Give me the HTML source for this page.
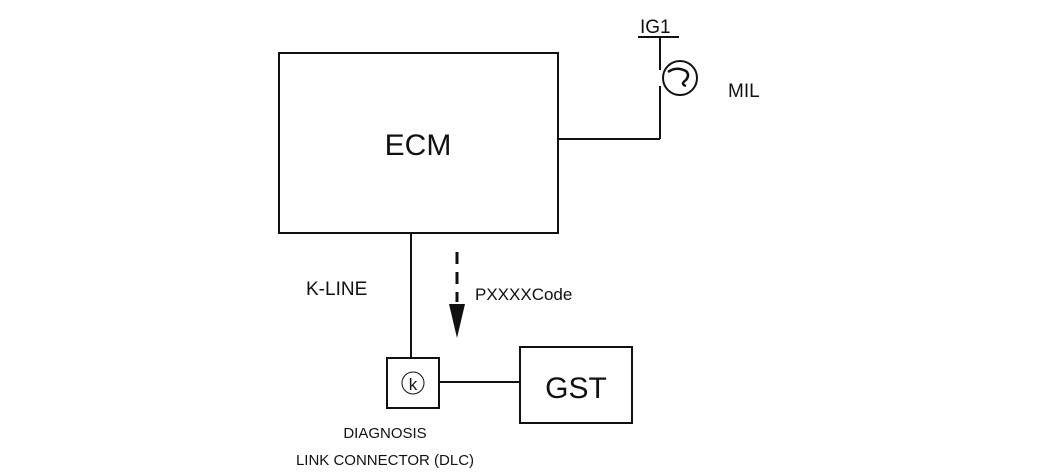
<!DOCTYPE html>
<html><head><style>body{margin:0;background:#fff}svg{display:block}text{font-family:"Liberation Sans",sans-serif;fill:#111}</style></head>
<body>
<svg width="1050" height="475" viewBox="0 0 1050 475" xmlns="http://www.w3.org/2000/svg">
<g stroke="#111" stroke-width="2" fill="none">
<rect x="279" y="53" width="279" height="180"/>
<line x1="411" y1="233" x2="411" y2="358"/>
<rect x="387" y="358" width="52" height="50"/>
<line x1="440" y1="382" x2="520" y2="382"/>
<rect x="520" y="347" width="112" height="76"/>
<line x1="638" y1="37" x2="679" y2="37"/>
<line x1="660" y1="37" x2="660" y2="70"/>
<line x1="660" y1="86" x2="660" y2="139"/>
<line x1="558" y1="139" x2="660" y2="139"/>
<circle cx="680" cy="78" r="17"/>
<path d="M668 72 Q676 66 686 71 Q690 75 686 80 Q680 84 686 86" stroke-width="2.5"/>
<line x1="457" y1="252" x2="457" y2="302" stroke-width="3" stroke-dasharray="12,8"/>
<circle cx="413" cy="383" r="11" stroke-width="1"/>
</g>
<polygon points="449,304 465,304 457,338" fill="#111"/>
<text x="640" y="33" font-size="19">IG1</text>
<text x="728" y="97" font-size="19">MIL</text>
<text x="418" y="155" font-size="30" text-anchor="middle">ECM</text>
<text x="306" y="295" font-size="19">K-LINE</text>
<text x="475" y="300" font-size="17">PXXXXCode</text>
<text x="413" y="390" font-size="17" text-anchor="middle">k</text>
<text x="576" y="398" font-size="30" text-anchor="middle">GST</text>
<text x="385" y="438" font-size="15" text-anchor="middle">DIAGNOSIS</text>
<text x="385" y="465" font-size="15" text-anchor="middle">LINK CONNECTOR (DLC)</text>
</svg>
</body></html>
